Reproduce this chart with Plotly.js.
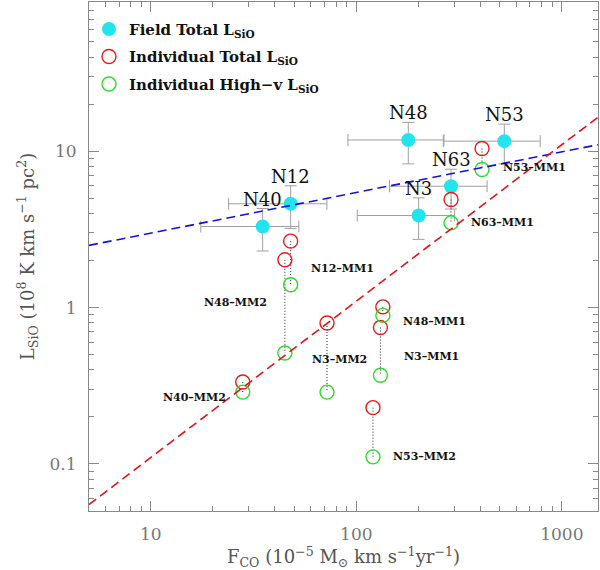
<!DOCTYPE html>
<html>
<head>
<meta charset="utf-8">
<script src="https://cdn.plot.ly/plotly-3.0.1.min.js"></script>
<style>
  html, body { margin: 0; padding: 0; background: #fff; }
  #chart { width: 600px; height: 570px; }
</style>
</head>
<body>
<div id="chart"></div>
<script>
// Field totals (cyan, with error bars)
const fieldNames = ['N40', 'N12', 'N48', 'N53', 'N63', 'N3'];
const fieldF = [35.0, 47.9, 179, 525, 289, 201];
const fieldFErr = [17.5, 24, 88, 260, 144, 100];
const fieldL = [3.30, 4.61, 11.8, 11.6, 5.97, 3.88];
const fieldLErr = [1.0, 1.4, 3.5, 3.3, 1.7, 1.15];

// Individual cores: total (red) and high-velocity (green) L_SiO
const coreNames = ['N12\u2013MM1', 'N48\u2013MM2', 'N40\u2013MM2', 'N3\u2013MM2', 'N48\u2013MM1',
                   'N3\u2013MM1', 'N53\u2013MM2', 'N53\u2013MM1', 'N63\u2013MM1'];
const coreF = [47.9, 44.9, 28.0, 72.0, 134.6, 131, 120.5, 409, 289];
const coreTotL = [2.66, 2.02, 0.334, 0.796, 1.01, 0.745, 0.229, 10.4, 4.91];
const coreHighL = [1.40, 0.512, 0.288, 0.288, 0.891, 0.369, 0.111, 7.64, 3.48];

// Fit lines (end points)
const blueFitF = [5, 1500];
const blueFitL = [2.5, 11.0];
const redFitF = [5, 1500];
const redFitL = [0.055, 16.5];

const xTickVals = [10, 100, 1000];
const xTickText = ['10', '100', '1000'];
const yTickVals = [0.1, 1, 10];
const yTickText = ['0.1', '1', '10'];

// label offsets in pixels (dx, dy, anchor) relative to green point
const coreLabelPos = [
  [18, 16, 'left'], [-16, 51, 'right'], [-15, -5, 'right'], [-17, 33, 'left'], [18, -6, 'left'],
  [22, 19, 'left'], [18, 0, 'left'], [19, 2, 'left'], [18, 0, 'left']
];

const serif = 'DejaVu Serif, serif';
const lg = Math.log10;

// dotted connectors red -> green
const connX = [], connY = [];
coreF.forEach((f, i) => {
  connX.push(f, f, null);
  connY.push(coreTotL[i], coreHighL[i], null);
});

const traces = [
  {
    x: fieldF, y: fieldL, type: 'scatter', mode: 'markers',
    marker: { size: 14, color: 'rgba(0,0,0,0)' },
    error_x: { type: 'data', array: fieldFErr, color: '#a0a0a0', thickness: 1, width: 6 },
    error_y: { type: 'data', array: fieldLErr, color: '#a0a0a0', thickness: 1, width: 6 },
    showlegend: false, hoverinfo: 'skip'
  },
  {
    x: connX, y: connY, type: 'scatter', mode: 'lines',
    line: { color: '#222', width: 1, dash: '1px,2px' },
    showlegend: false, hoverinfo: 'skip'
  },
  {
    x: fieldF, y: fieldL, type: 'scatter', mode: 'markers',
    name: 'Field Total L<sub>SiO</sub>', legendgroup: 'a',
    marker: { size: 14, color: '#22E4EE' }
  },
  {
    x: coreF, y: coreTotL, type: 'scatter', mode: 'markers',
    name: 'Individual Total L<sub>SiO</sub>', legendgroup: 'b',
    marker: { size: 14, symbol: 'circle-open', color: '#E41A1C', line: { width: 1.4 } }
  },
  {
    x: coreF, y: coreHighL, type: 'scatter', mode: 'markers',
    name: 'Individual High\u2212v L<sub>SiO</sub>', legendgroup: 'c',
    marker: { size: 14, symbol: 'circle-open', color: '#2ED82E', line: { width: 1.4 } }
  },
  {
    x: blueFitF, y: blueFitL, type: 'scatter', mode: 'lines',
    line: { color: '#1414C8', width: 1.6, dash: '9px,5px' },
    showlegend: false, hoverinfo: 'skip'
  },
  {
    x: redFitF, y: redFitL, type: 'scatter', mode: 'lines',
    line: { color: '#E0141E', width: 1.6, dash: '9px,5px' },
    showlegend: false, hoverinfo: 'skip'
  }
];

const annotations = [];
fieldNames.forEach((n, i) => {
  annotations.push({
    x: lg(fieldF[i]), y: lg(fieldL[i]), xref: 'x', yref: 'y', text: n,
    showarrow: false, yshift: 27, xanchor: 'center', yanchor: 'middle',
    font: { family: serif, size: 18, color: '#111' }
  });
});
coreNames.forEach((n, i) => {
  const p = coreLabelPos[i];
  annotations.push({
    x: lg(coreF[i]), y: lg(coreHighL[i]), xref: 'x', yref: 'y', text: '<b>' + n + '</b>',
    showarrow: false, xshift: p[0], yshift: p[1], xanchor: p[2], yanchor: 'middle',
    font: { family: serif, size: 11, color: '#111' }
  });
});

const axisCommon = {
  type: 'log', showgrid: false, zeroline: false,
  showline: true, linecolor: '#888', linewidth: 1, mirror: 'ticks',
  ticks: 'inside', ticklen: 10, tickwidth: 1, tickcolor: '#888',
  tickmode: 'array',
  minor: { ticks: 'inside', ticklen: 5, tickwidth: 1, tickcolor: '#888', dtick: 'D1', showgrid: false },
  tickfont: { family: serif, size: 17, color: '#777' }
};

const layout = {
  width: 600, height: 570,
  margin: { l: 89, r: 2, t: 2, b: 59 },
  paper_bgcolor: '#fff', plot_bgcolor: '#fff',
  showlegend: true,
  legend: {
    x: 0.0, y: 0.979, xanchor: 'left', yanchor: 'top',
    bgcolor: 'rgba(0,0,0,0)', borderwidth: 0,
    font: { family: serif, size: 15, color: '#111', weight: 'bold' },
    tracegroupgap: 5, itemwidth: 30
  },
  xaxis: Object.assign({}, axisCommon, {
    range: [lg(5), lg(1500)],
    tickvals: xTickVals, ticktext: xTickText,
    ticklabelstandoff: 8,
    title: {
      text: 'F<sub>CO</sub> (10<sup>\u22125</sup> M<sub>\u2299</sub> km s<sup>\u22121</sup>yr<sup>\u22121</sup>)',
      font: { family: serif, size: 18, color: '#555' }, standoff: 6
    }
  }),
  yaxis: Object.assign({}, axisCommon, {
    range: [lg(0.05), lg(90)],
    tickvals: yTickVals, ticktext: yTickText,
    ticklabelstandoff: 8,
    title: {
      text: 'L<sub>SiO</sub> (10<sup>8</sup> K km s<sup>\u22121</sup> pc<sup>2</sup>)',
      font: { family: serif, size: 18, color: '#555' }, standoff: 10
    }
  }),
  annotations: annotations
};

Plotly.newPlot('chart', traces, layout, { displayModeBar: false, staticPlot: true });
</script>
</body>
</html>
